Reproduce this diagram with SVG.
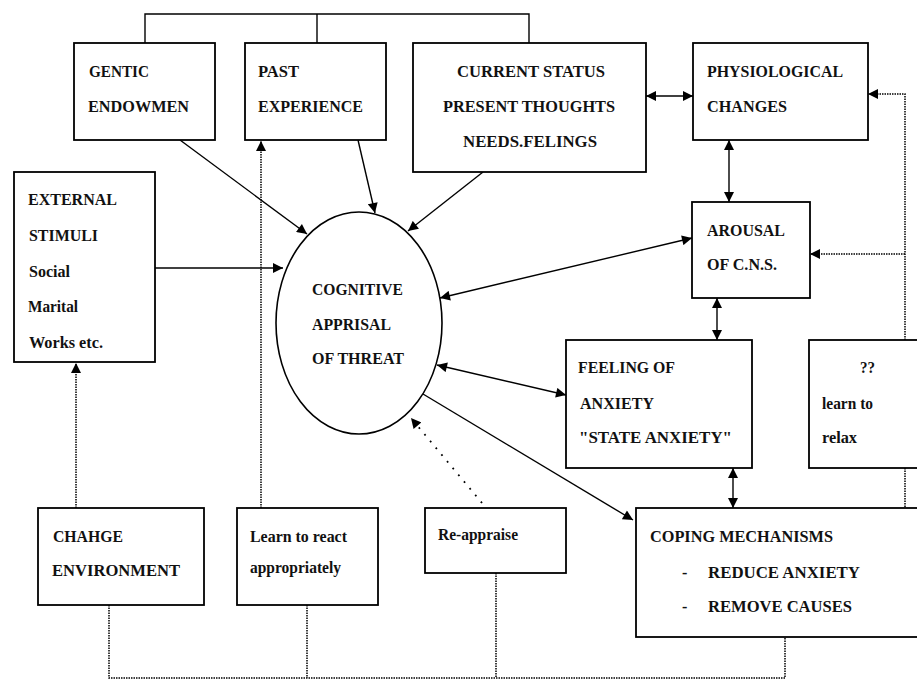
<svg xmlns="http://www.w3.org/2000/svg" width="917" height="682" viewBox="0 0 917 682">
<defs>
<marker id="ah" markerUnits="userSpaceOnUse" markerWidth="11" markerHeight="10" refX="10" refY="5" orient="auto-start-reverse" viewBox="0 0 10 10">
<path d="M0,0 L10,5 L0,10 z" fill="#000"/>
</marker>
</defs>
<style>
.box{fill:#fff;stroke:#000;stroke-width:1.8}
.t{font-family:"Liberation Serif","Times New Roman",serif;font-weight:bold;font-size:16px;fill:#111}
.c{fill:none;stroke:#000;stroke-width:1.4}
.d{fill:none;stroke:#000;stroke-width:1.5;stroke-dasharray:1.5 1}
.s{fill:none;stroke:#000;stroke-width:1.8;stroke-dasharray:1.8 7}
</style>
<rect width="917" height="682" fill="#fff"/>

<g id="connectors">
<polyline class="c" points="145,43 145,14 529,14 529,43"/>
<line class="c" x1="317" y1="14" x2="317" y2="43"/>
<line class="c" x1="180" y1="140" x2="307" y2="234" marker-end="url(#ah)"/>
<line class="c" x1="358" y1="140" x2="375" y2="213" marker-end="url(#ah)"/>
<line class="c" x1="483" y1="172" x2="408" y2="231" marker-end="url(#ah)"/>
<line class="c" x1="155" y1="268" x2="283" y2="268" marker-end="url(#ah)"/>
<line class="c" x1="440" y1="298" x2="692" y2="238" marker-start="url(#ah)" marker-end="url(#ah)"/>
<line class="c" x1="437" y1="365" x2="566" y2="395" marker-start="url(#ah)" marker-end="url(#ah)"/>
<line class="c" x1="423" y1="394" x2="633" y2="520" marker-end="url(#ah)"/>
<line class="c" x1="646" y1="96" x2="693" y2="96" marker-start="url(#ah)" marker-end="url(#ah)"/>
<line class="c" x1="729" y1="140" x2="729" y2="202" marker-start="url(#ah)" marker-end="url(#ah)"/>
<line class="c" x1="717" y1="298" x2="717" y2="340" marker-start="url(#ah)" marker-end="url(#ah)"/>
<line class="c" x1="733" y1="468" x2="733" y2="508" marker-start="url(#ah)" marker-end="url(#ah)"/>
<polyline class="d" points="905,340 905,94 868,94" marker-end="url(#ah)"/>
<line class="d" x1="905" y1="254" x2="810" y2="254" marker-end="url(#ah)"/>
<line class="d" x1="905" y1="468" x2="905" y2="508"/>
<line class="d" x1="76" y1="508" x2="76" y2="363" marker-end="url(#ah)"/>
<line class="d" x1="261" y1="508" x2="261" y2="141" marker-end="url(#ah)"/>
<line class="s" x1="482" y1="503" x2="411" y2="418" marker-end="url(#ah)"/>
<polyline class="d" points="109,605 109,678 785,678 785,637"/>
<line class="d" x1="307" y1="605" x2="307" y2="678"/>
<line class="d" x1="496" y1="573" x2="496" y2="678"/>
</g>

<g id="gentic">
<rect class="box" x="74" y="43" width="141" height="97"/>
<text class="t" x="89" y="77" textLength="60" lengthAdjust="spacingAndGlyphs">GENTIC</text>
<text class="t" x="88" y="112" textLength="101" lengthAdjust="spacingAndGlyphs">ENDOWMEN</text>
</g>
<g id="past">
<rect class="box" x="245" y="43" width="141" height="97"/>
<text class="t" x="258" y="77" textLength="41" lengthAdjust="spacingAndGlyphs">PAST</text>
<text class="t" x="258" y="112" textLength="105" lengthAdjust="spacingAndGlyphs">EXPERIENCE</text>
</g>
<g id="current">
<rect class="box" x="413" y="43" width="233" height="129"/>
<text class="t" x="457" y="77" textLength="148" lengthAdjust="spacingAndGlyphs">CURRENT STATUS</text>
<text class="t" x="443" y="112" textLength="172" lengthAdjust="spacingAndGlyphs">PRESENT THOUGHTS</text>
<text class="t" x="463" y="147" textLength="134" lengthAdjust="spacingAndGlyphs">NEEDS.FELINGS</text>
</g>
<g id="physio">
<rect class="box" x="693" y="43" width="175" height="97"/>
<text class="t" x="707" y="77" textLength="136" lengthAdjust="spacingAndGlyphs">PHYSIOLOGICAL</text>
<text class="t" x="707" y="112" textLength="80" lengthAdjust="spacingAndGlyphs">CHANGES</text>
</g>
<g id="external">
<rect class="box" x="14" y="172" width="141" height="190"/>
<text class="t" x="28" y="205" textLength="89" lengthAdjust="spacingAndGlyphs">EXTERNAL</text>
<text class="t" x="29" y="241" textLength="69" lengthAdjust="spacingAndGlyphs">STIMULI</text>
<text class="t" x="29" y="277" textLength="41" lengthAdjust="spacingAndGlyphs">Social</text>
<text class="t" x="28" y="312" textLength="50" lengthAdjust="spacingAndGlyphs">Marital</text>
<text class="t" x="29" y="348" textLength="74" lengthAdjust="spacingAndGlyphs">Works etc.</text>
</g>
<g id="cognitive">
<ellipse cx="359" cy="323" rx="83" ry="111" fill="#fff" stroke="#000" stroke-width="1.6"/>
<text class="t" x="312" y="295" textLength="91" lengthAdjust="spacingAndGlyphs">COGNITIVE</text>
<text class="t" x="312" y="330" textLength="79" lengthAdjust="spacingAndGlyphs">APPRISAL</text>
<text class="t" x="312" y="364" textLength="92" lengthAdjust="spacingAndGlyphs">OF THREAT</text>
</g>
<g id="arousal">
<rect class="box" x="692" y="202" width="118" height="96"/>
<text class="t" x="707" y="236" textLength="78" lengthAdjust="spacingAndGlyphs">AROUSAL</text>
<text class="t" x="707" y="270" textLength="70" lengthAdjust="spacingAndGlyphs">OF C.N.S.</text>
</g>
<g id="feeling">
<rect class="box" x="566" y="340" width="186" height="128"/>
<text class="t" x="578" y="373" textLength="97" lengthAdjust="spacingAndGlyphs">FEELING OF</text>
<text class="t" x="580" y="409" textLength="74" lengthAdjust="spacingAndGlyphs">ANXIETY</text>
<text class="t" x="579" y="443" textLength="153" lengthAdjust="spacingAndGlyphs">"STATE ANXIETY"</text>
</g>
<g id="relax">
<rect class="box" x="809" y="340" width="120" height="128"/>
<text class="t" x="860" y="373" textLength="15" lengthAdjust="spacingAndGlyphs">??</text>
<text class="t" x="822" y="409" textLength="51" lengthAdjust="spacingAndGlyphs">learn to</text>
<text class="t" x="822" y="443" textLength="35" lengthAdjust="spacingAndGlyphs">relax</text>
</g>
<g id="change">
<rect class="box" x="38" y="508" width="166" height="97"/>
<text class="t" x="53" y="542" textLength="70" lengthAdjust="spacingAndGlyphs">CHAHGE</text>
<text class="t" x="52" y="576" textLength="128" lengthAdjust="spacingAndGlyphs">ENVIRONMENT</text>
</g>
<g id="learn">
<rect class="box" x="237" y="508" width="141" height="97"/>
<text class="t" x="250" y="542" textLength="97" lengthAdjust="spacingAndGlyphs">Learn to react</text>
<text class="t" x="250" y="573" textLength="91" lengthAdjust="spacingAndGlyphs">appropriately</text>
</g>
<g id="reappraise">
<rect class="box" x="425" y="508" width="141" height="65"/>
<text class="t" x="438" y="540" textLength="80" lengthAdjust="spacingAndGlyphs">Re-appraise</text>
</g>
<g id="coping">
<rect class="box" x="636" y="508" width="294" height="129"/>
<text class="t" x="650" y="542" textLength="183" lengthAdjust="spacingAndGlyphs">COPING MECHANISMS</text>
<text class="t" x="682" y="578">-</text>
<text class="t" x="708" y="578" textLength="152" lengthAdjust="spacingAndGlyphs">REDUCE ANXIETY</text>
<text class="t" x="682" y="612">-</text>
<text class="t" x="708" y="612" textLength="144" lengthAdjust="spacingAndGlyphs">REMOVE CAUSES</text>
</g>
</svg>
